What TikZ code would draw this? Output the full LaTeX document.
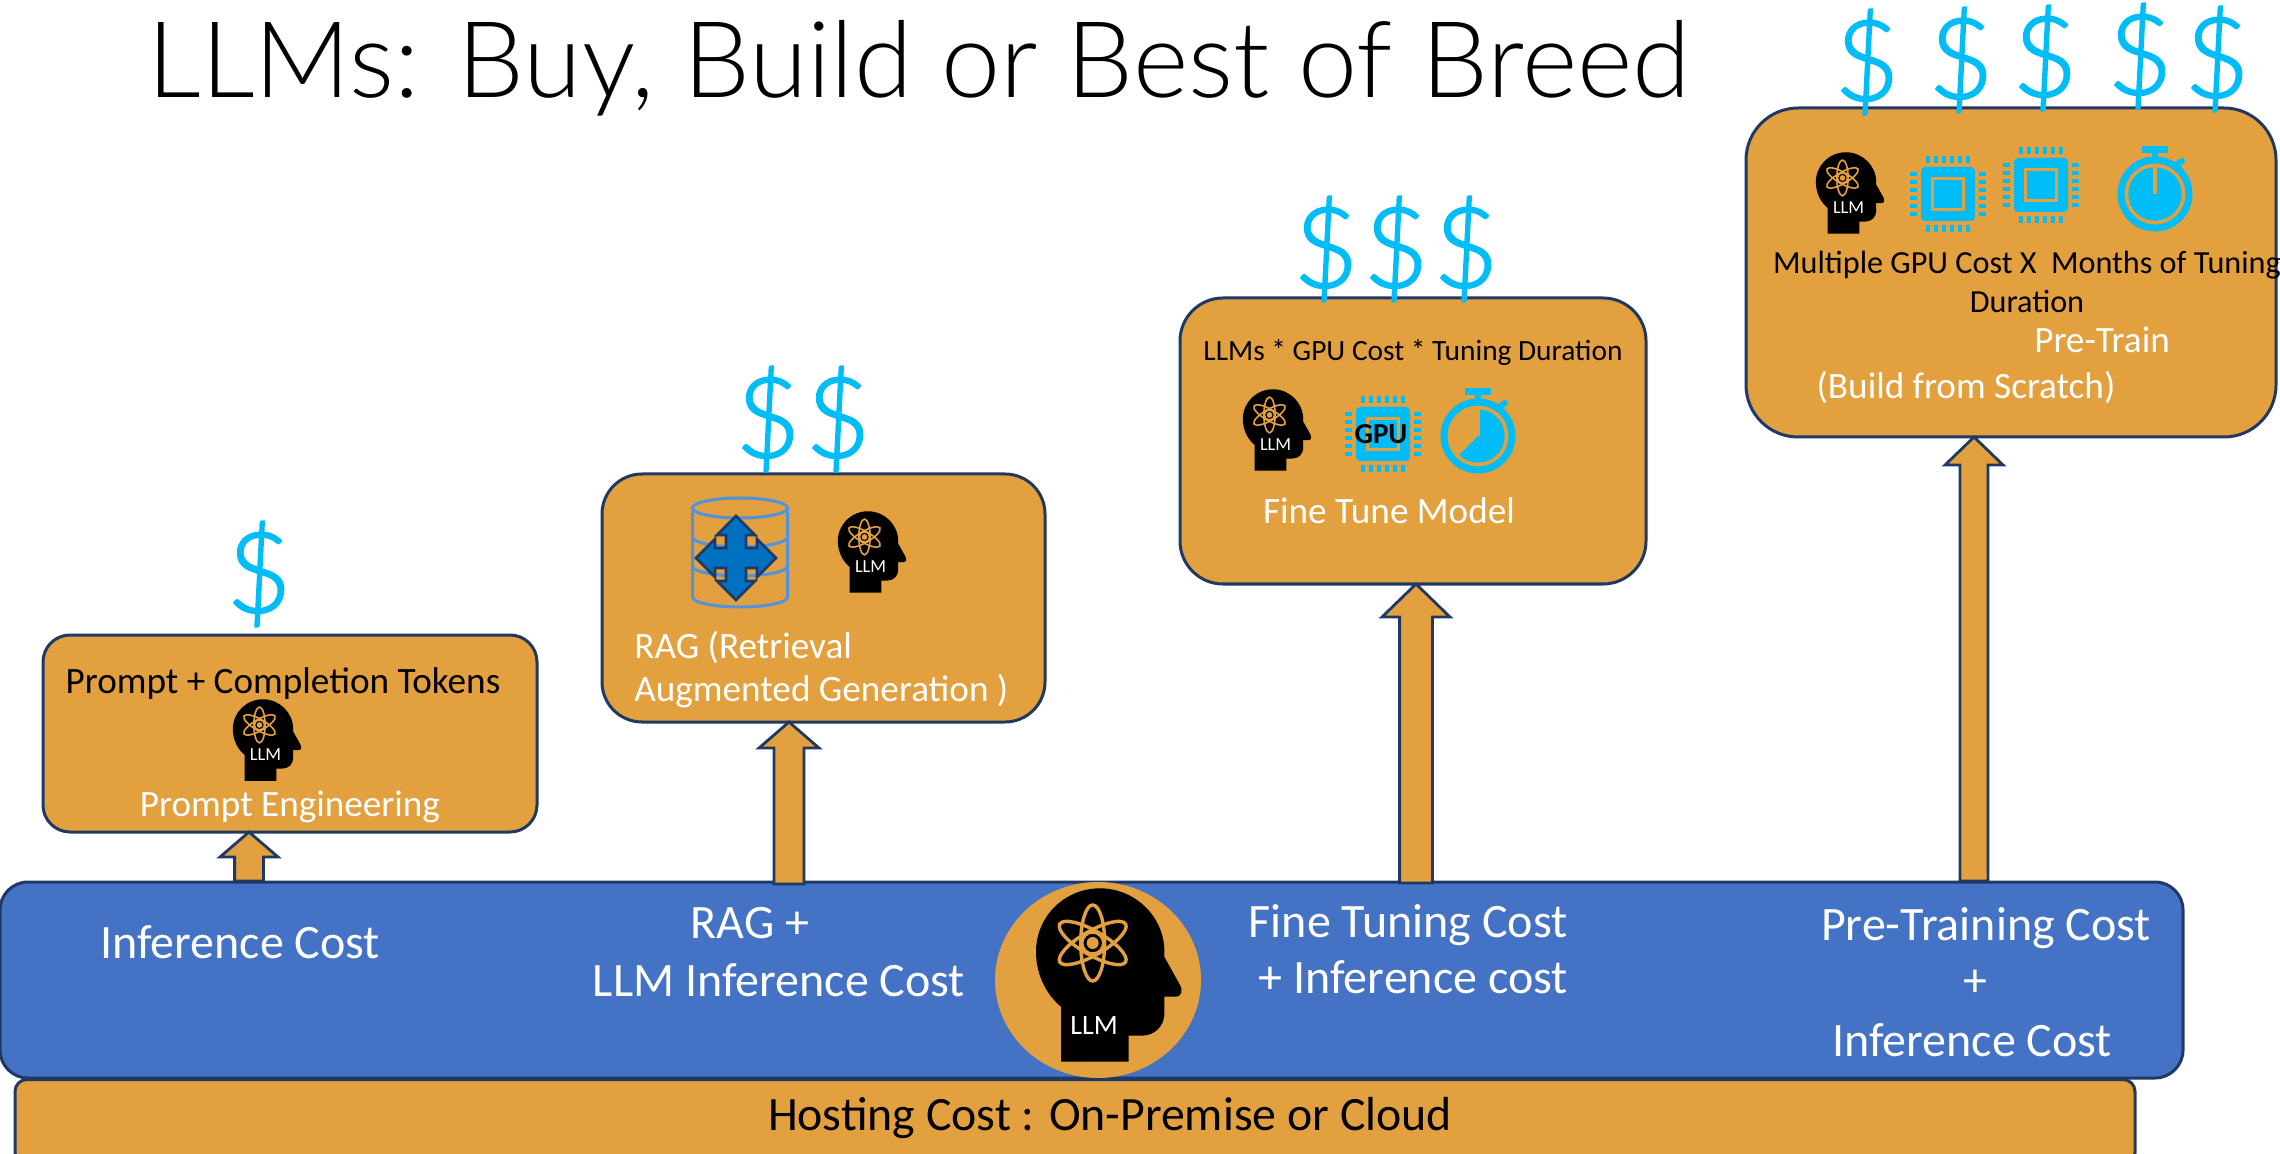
\documentclass[tikz,border=0pt]{standalone}
\usepackage{fontspec}
\setmainfont{Carlito}
\newfontfamily\thinface{Lato Light}
\newfontfamily\priceface[FakeBold=1.6]{Lato Light}
\usetikzlibrary{calc, positioning, shapes.geometric}
\definecolor{tier_orange}{HTML}{E2A03F}
\definecolor{bar_blue}{HTML}{4472C4}
\definecolor{edge_navy}{HTML}{1F3864}
\definecolor{price_cyan}{HTML}{00BDF7}
\definecolor{db_line}{HTML}{4F94DC}
\definecolor{db_move}{HTML}{0070C0}
\tikzset{
  costbox/.style={rectangle,draw=edge_navy,line width=1.5pt,fill=tier_orange,inner sep=0pt,outer sep=0pt},
  dollar/.style={inner sep=0pt,text=price_cyan,font=\priceface\fontsize{56}{56}\selectfont},
  darktext/.style={inner sep=0pt,text=black,align=center},
  whitetext/.style={inner sep=0pt,text=white,align=left},
  midfont/.style={font=\fontsize{18.6}{21.5}\selectfont},
  barfont/.style={font=\fontsize{24}{28}\selectfont},
  blockarrow/.style n args={3}{draw=edge_navy,line width=1.4pt,fill=tier_orange,miter limit=8,
    to path={let \p1=(\tikztostart),\p2=(\tikztotarget) in
      (\x1-#1,\y1) -- (\x1-#1,\y2-#3) -- (\x1-#2,\y2-#3) -- (\x1,\y2) -- (\x1+#2,\y2-#3) -- (\x1+#1,\y2-#3) -- (\x1+#1,\y1) -- cycle}},
  smallhead/.style={scale=.47,line width=.8pt,font=\fontsize{9.2}{9.2}\selectfont},
  bighead/.style={line width=1.7pt,font=\fontsize{14}{14}\selectfont},
  llmhead/.pic={
    \fill[black] (-47.7,86.7) -- (-47.7,31.7) .. controls (-62,20) and (-72.7,0) .. (-72.7,-23.3)
      .. controls (-72.7,-58.6) and (-44,-86.7) .. (-8.7,-86.7)
      .. controls (26,-86.7) and (55.7,-58.6) .. (55.7,-23.3) -- (55.7,-18) -- (71.3,10)
      .. controls (74,14) and (74,21.7) .. (66.3,21.7) -- (55.7,21.7) -- (55.7,38.3)
      .. controls (55.7,51) and (46,60.7) .. (33,60.7) -- (20,60.7) -- (20,86.7) -- cycle;
    \foreach \a in {30,90,150}
      \draw[tier_orange,rotate around={\a:(-16,-32)}] (-16,-32) ellipse [x radius=38,y radius=12];
    \draw[tier_orange] (-16,-32) circle [radius=11];
    \fill[tier_orange] (-16,-32) circle [radius=6];
    \node[inner sep=0pt,text=white] (-lbl) at (#1) {LLM};
  },
  gpuchip/.pic={
    \fill[price_cyan,rounded corners=2pt] (-27,-27) rectangle (27,27);
    \fill[tier_orange] (-17,-17) rectangle (17,17);
    \fill[price_cyan] (-14,-14) rectangle (14,14);
    \foreach \p in {-20,-12,-4,4,12,20} {
      \fill[price_cyan] (\p-2,-38) rectangle (\p+2,-31);
      \fill[price_cyan] (\p-2,31) rectangle (\p+2,38);
      \fill[price_cyan] (-38,\p-2) rectangle (-31,\p+2);
      \fill[price_cyan] (31,\p-2) rectangle (38,\p+2);
    }
  },
  stopwatch/.pic={
    \draw[price_cyan,line width=3.5pt] (0,0) circle [radius=34];
    \fill[price_cyan] (-13,-48) rectangle (13,-41);
    \fill[price_cyan] (-3,-41) rectangle (3,-35);
    \draw[price_cyan,line width=3pt,line cap=round] (20,-28) -- (27,-33);
    \fill[price_cyan] (0,0) -- (0,-26.7) arc [start angle=-90,end angle=#1,radius=26.7] -- cycle;
    \fill[tier_orange] (-2,-27) rectangle (2,0);
  },
  ragstore/.pic={
    \draw[db_line,line width=1.5pt] (-47.5,-44) -- (-47.5,45) arc [start angle=180,end angle=0,x radius=47.5,y radius=10] -- (47.5,-44);
    \draw[db_line,line width=1.5pt] (0,-44) ellipse [x radius=47.5,y radius=10];
    \foreach \h in {-15,14}
      \draw[db_line,line width=1.5pt] (-47.5,\h) arc [start angle=180,end angle=0,x radius=47.5,y radius=10];
    \draw[edge_navy,fill=db_move,line width=1.3pt,shift={(-4,6)}] (0,-42) -- (19,-23) -- (10,-23) -- (10,-10) -- (21,-10) -- (21,-19)
      -- (40,0) -- (21,19) -- (21,10) -- (10,10) -- (10,23) -- (19,23) -- (0,42) -- (-19,23) -- (-10,23) -- (-10,10)
      -- (-21,10) -- (-21,19) -- (-40,0) -- (-21,-19) -- (-21,-10) -- (-10,-10) -- (-10,-23) -- (-19,-23) -- cycle;
  },
}

\begin{document}
\begin{tikzpicture}[x=.5pt,y=-.5pt]
	\useasboundingbox (0,0) rectangle (2280,1154);
	\node[inner sep=0pt,font=\thinface\fontsize{53}{53}\selectfont] (title) at (919,68) {LLMs: Buy, Build or Best of Breed};
	\node[costbox,rounded corners=6pt,minimum width=1060pt,minimum height=42.5pt] (hosting) at (1075,1122) {};
	\node[costbox,rounded corners=14pt,fill=bar_blue,minimum width=1091.5pt,minimum height=98pt] (inference) at (1091.5,980) {};
	\node[ellipse,fill=tier_orange,inner sep=0pt,minimum width=103pt,minimum height=98pt] (core) at (1098,980) {};
	\pic[bighead] (corehead) at (1108.7,975) {llmhead={-14.7,50.7}};

	\node[costbox,rounded corners=13.5pt,minimum width=247pt,minimum height=98.5pt] (box1) at (290,733.5) {};
	\node[costbox,rounded corners=20pt,minimum width=221.5pt,minimum height=124pt] (box2) at (823.5,598) {};
	\node[costbox,rounded corners=21.5pt,minimum width=233pt,minimum height=143pt] (box3) at (1413,441) {};
	\node[costbox,rounded corners=26pt,minimum width=265pt,minimum height=164.5pt] (box4) at (2011,272.5) {};

	\coordinate (base1) at (249,881);
	\coordinate (base2) at (789,884);
	\coordinate (base3) at (1416,883);
	\coordinate (base4) at (1974,881);
	\draw[blockarrow={7.2pt}{14.5pt}{12.5pt}] (base1) to (base1 |- box1.south);
	\draw[blockarrow={7.5pt}{15pt}{13pt}] (base2) to (base2 |- box2.south);
	\draw[blockarrow={8.2pt}{17pt}{16.5pt}] (base3) to (base3 |- box3.south);
	\draw[blockarrow={7pt}{14.5pt}{14pt}] (base4) to (base4 |- box4.south);

	\foreach \x/\y/\n in {259/574/a,768/419/b,838/419/c,1326/249/d,1396/249/e,1466/249/f,
		1867/62/g,1961/60/h,2045/58/i,2140/56/j,2217/59/k}
		\node[dollar] (price\n) at (\x,\y) {\$};

	\node[darktext,midfont] (tokens) at (283,684) {Prompt + Completion Tokens};
	\pic[smallhead] (head1) at (267,740) {llmhead={-3,32}};
	\node[whitetext,midfont] (prompt) at (290,807) {Prompt Engineering};

	\pic (store) at (740,552) {ragstore};
	\pic[smallhead] (head2) at (872,552) {llmhead={-3,32}};
	\node[whitetext,midfont,anchor=west] (rag) at (634,670) {RAG (Retrieval\\Augmented Generation )};

	\node[darktext,font=\fontsize{14.7}{15}\selectfont] (tuneformula) at (1413,353) {LLMs * GPU Cost * Tuning Duration};
	\pic[smallhead] (head3) at (1277,430) {llmhead={-3,32}};
	\pic (chip1) at (1383,434) {gpuchip};
	\node[inner sep=0pt,font=\fontsize{14.5}{14.5}\bfseries] (gpu) at (1381,434) {GPU};
	\pic (watch1) at (1478,436) {stopwatch=135};
	\node[whitetext,midfont] (finetune) at (1389,511) {Fine Tune Model};

	\pic[smallhead] (head4) at (1850,193) {llmhead={-3,32}};
	\pic (chip2) at (1948,194) {gpuchip};
	\pic (chip3) at (2041,185) {gpuchip};
	\pic (watch2) at (2155,194) {stopwatch=270};
	\node[darktext,font=\fontsize{16.1}{19.5}\selectfont] (pretrainformula) at (2027,282) {Multiple GPU Cost X~~Months of Tuning\\Duration};
	\node[whitetext,midfont] (pretrain) at (2102,340) {Pre-Train};
	\node[whitetext,midfont] (scratch) at (1966,387) {(Build from Scratch)};

	\node[whitetext,barfont] (infcost) at (240,942) {Inference Cost};
	\node[whitetext,barfont] (ragplus) at (750,923) {RAG +};
	\node[whitetext,barfont] (raginf) at (779,980) {LLM Inference Cost};
	\node[whitetext,barfont,align=right,anchor=east] (tunecost) at (1568,949) {Fine Tuning Cost\\+ Inference cost};
	\node[whitetext,barfont] (pretrain1) at (1986,928) {Pre-Training Cost};
	\node[whitetext,barfont] (pretrain2) at (1975,983) {+};
	\node[whitetext,barfont] (pretrain3) at (1972,1040) {Inference Cost};
	\node[darktext,font=\fontsize{23.9}{26}\selectfont] (hostcost) at (1110,1118) {Hosting Cost : On-Premise or Cloud};
\end{tikzpicture}
\end{document}
